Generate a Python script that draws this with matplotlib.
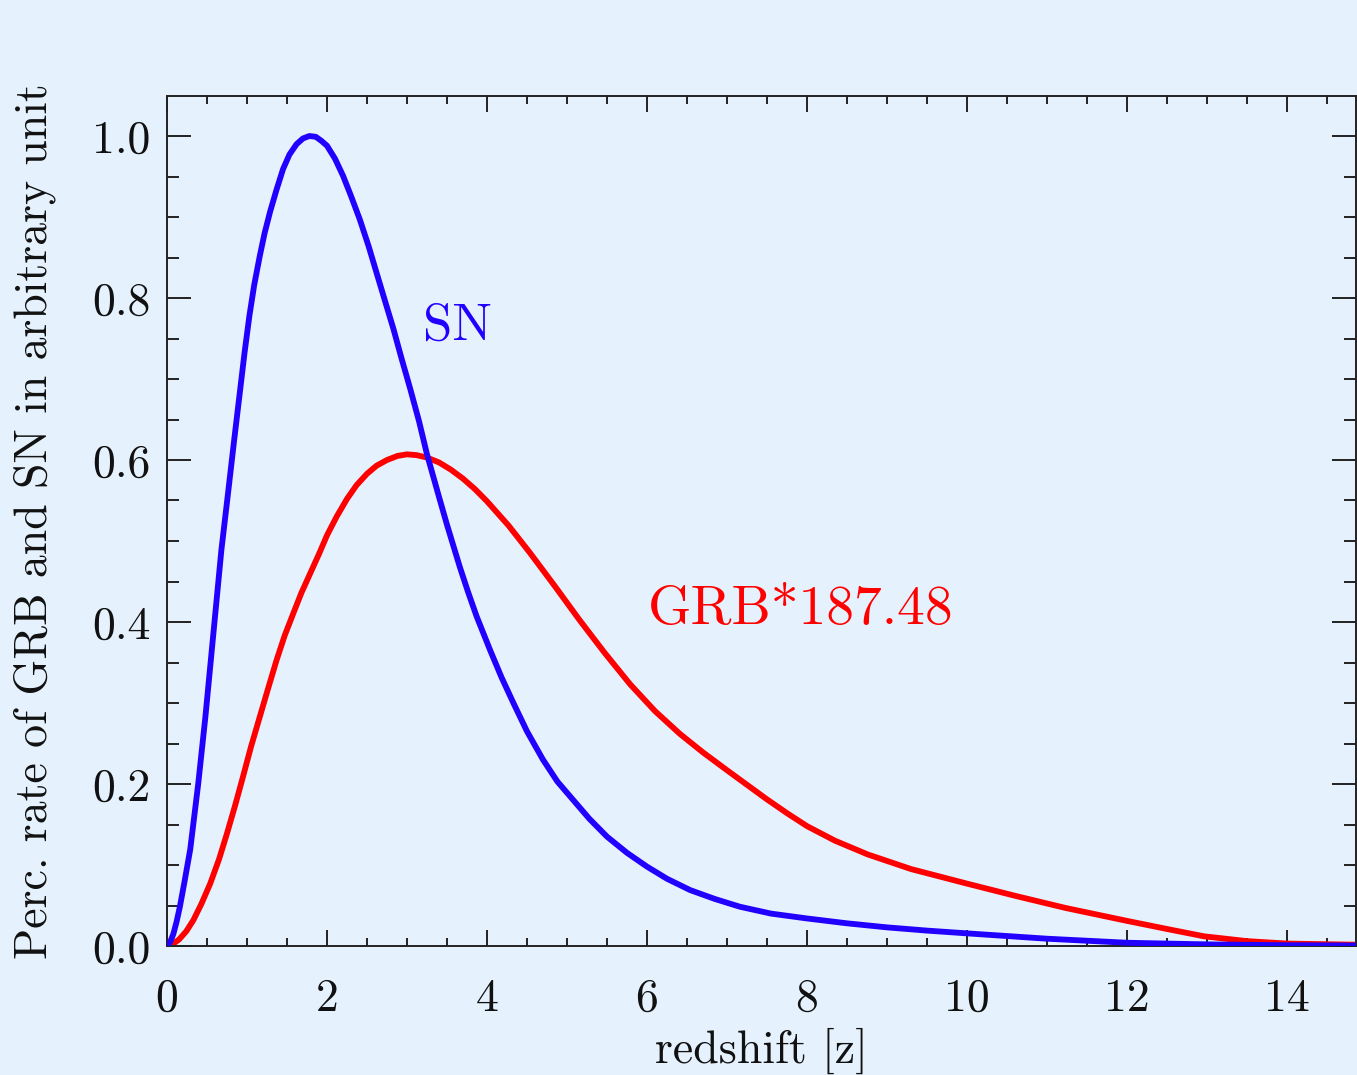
import matplotlib
matplotlib.use("Agg")
import matplotlib.pyplot as plt
from matplotlib.ticker import MultipleLocator

# ---- data ----
sn_z = [0.0, 0.04, 0.08, 0.12, 0.16, 0.22, 0.29, 0.39, 0.48, 0.58, 0.68, 0.77,
        0.84, 0.91, 0.97, 1.03, 1.09, 1.16, 1.22, 1.29, 1.37, 1.45, 1.53,
        1.62, 1.70, 1.78, 1.86, 1.93, 2.0, 2.1, 2.2, 2.3, 2.41, 2.52, 2.62,
        2.72, 2.83, 2.93, 3.04, 3.15, 3.25, 3.33, 3.41, 3.5, 3.58, 3.66, 3.76,
        3.87, 4.04, 4.18, 4.33, 4.5, 4.7, 4.88, 5.08, 5.28, 5.5, 5.75, 6.0,
        6.25, 6.54, 6.85, 7.16, 7.55, 8.0, 8.5, 9.0, 9.5, 10.0, 11.0, 12.0,
        13.0, 14.0, 14.9]
sn_rate = [0.0, 0.005, 0.015, 0.030, 0.048, 0.080, 0.119, 0.20, 0.283, 0.386,
           0.489, 0.565, 0.625, 0.683, 0.733, 0.778, 0.816, 0.852, 0.880,
           0.907, 0.934, 0.959, 0.977, 0.990, 0.997, 1.0, 0.999, 0.994, 0.988,
           0.972, 0.951, 0.926, 0.897, 0.864, 0.831, 0.798, 0.762, 0.726,
           0.688, 0.648, 0.607, 0.579, 0.551, 0.520, 0.494, 0.468, 0.438,
           0.407, 0.365, 0.332, 0.30, 0.265, 0.23, 0.203, 0.18, 0.157, 0.135,
           0.115, 0.098, 0.083, 0.069, 0.058, 0.0485, 0.040, 0.034, 0.028,
           0.023, 0.019, 0.0156, 0.009, 0.004, 0.002, 0.001, 0.0005]

grb_z = [0.0, 0.08, 0.15, 0.24, 0.33, 0.43, 0.54, 0.65, 0.75, 0.85, 0.95, 1.05,
         1.16, 1.27, 1.37, 1.47, 1.58, 1.68, 1.79, 1.9, 2.0, 2.12, 2.25, 2.37,
         2.5, 2.62, 2.75, 2.88, 3.0, 3.12, 3.25, 3.4, 3.55, 3.7, 3.85, 4.0,
         4.27, 4.54, 4.85, 5.16, 5.47, 5.79, 6.1, 6.41, 6.7, 7.0, 7.25, 7.5,
         7.75, 8.0, 8.35, 8.76, 9.3, 10.0, 10.6, 11.23, 12.0, 12.5, 12.96,
         13.5, 14.0, 14.9]
grb_rate = [0.0, 0.003, 0.008, 0.018, 0.032, 0.052, 0.077, 0.107, 0.139, 0.173,
            0.209, 0.246, 0.283, 0.320, 0.353, 0.383, 0.411, 0.436, 0.46,
            0.484, 0.507, 0.530, 0.552, 0.569, 0.583, 0.593, 0.600, 0.605,
            0.607, 0.606, 0.603, 0.597, 0.588, 0.577, 0.564, 0.549, 0.519,
            0.485, 0.444, 0.402, 0.362, 0.323, 0.290, 0.262, 0.239, 0.217,
            0.199, 0.181, 0.164, 0.148, 0.130, 0.113, 0.095, 0.077, 0.062,
            0.047, 0.031, 0.021, 0.012, 0.006, 0.003, 0.0015]

x_ticks = [0, 2, 4, 6, 8, 10, 12, 14]
y_ticks = [0.0, 0.2, 0.4, 0.6, 0.8, 1.0]
x_label = "redshift [z]"
y_label = "Perc. rate of GRB and SN in arbitrary unit"
sn_text = "SN"
grb_text = "GRB*187.48"

BG = "#e5f1fc"
BLUE = "#2200ff"
RED = "#ff0000"

plt.rcParams['font.family'] = ['cmr10', 'DejaVu Serif']
plt.rcParams['axes.unicode_minus'] = False
plt.rcParams['axes.formatter.use_mathtext'] = False

fig = plt.figure(figsize=(13.57, 10.75), dpi=100, facecolor=BG)
ax = fig.add_axes([167/1357, 1 - 946/1075, (1356 - 167)/1357, (946 - 96)/1075])
ax.set_facecolor(BG)

ax.plot(sn_z, sn_rate, color=BLUE, lw=4.2, solid_capstyle='round',
        solid_joinstyle='round', zorder=3)
ax.plot(grb_z, grb_rate, color=RED, lw=4.2, solid_capstyle='round',
        solid_joinstyle='round', zorder=2)

ax.set_xlim(0, (1356 - 167) / 80)
ax.set_ylim(0, (946 - 96) / 810)

ax.set_xticks(x_ticks)
ax.set_xticklabels([str(v) for v in x_ticks])
ax.set_yticks(y_ticks)
ax.set_yticklabels([f"{v:.1f}" for v in y_ticks])
ax.xaxis.set_minor_locator(MultipleLocator(0.5))
ax.yaxis.set_minor_locator(MultipleLocator(0.05))

ax.tick_params(axis='both', which='both', direction='in', top=True, right=True,
               color='#222222', width=1.4, labelsize=33, labelcolor='#111111')
ax.tick_params(axis='x', which='major', length=11.5, pad=23)
ax.tick_params(axis='x', which='minor', length=5.8)
ax.tick_params(axis='y', which='major', length=17.3, pad=12)
ax.tick_params(axis='y', which='minor', length=8.6)

for s in ax.spines.values():
    s.set_color('#222222')
    s.set_linewidth(1.4)

ax.set_xlabel(x_label, fontsize=33, color='#111111', labelpad=6)
ax.set_ylabel(y_label, fontsize=33, color='#111111', labelpad=26)

ax.text(3.2, 0.748, sn_text, color=BLUE, fontsize=38, ha='left', va='baseline')
ax.text(6.01, 0.3975, grb_text, color=RED, fontsize=40, ha='left', va='baseline')

fig.savefig("out.png", dpi=100, facecolor=BG)
